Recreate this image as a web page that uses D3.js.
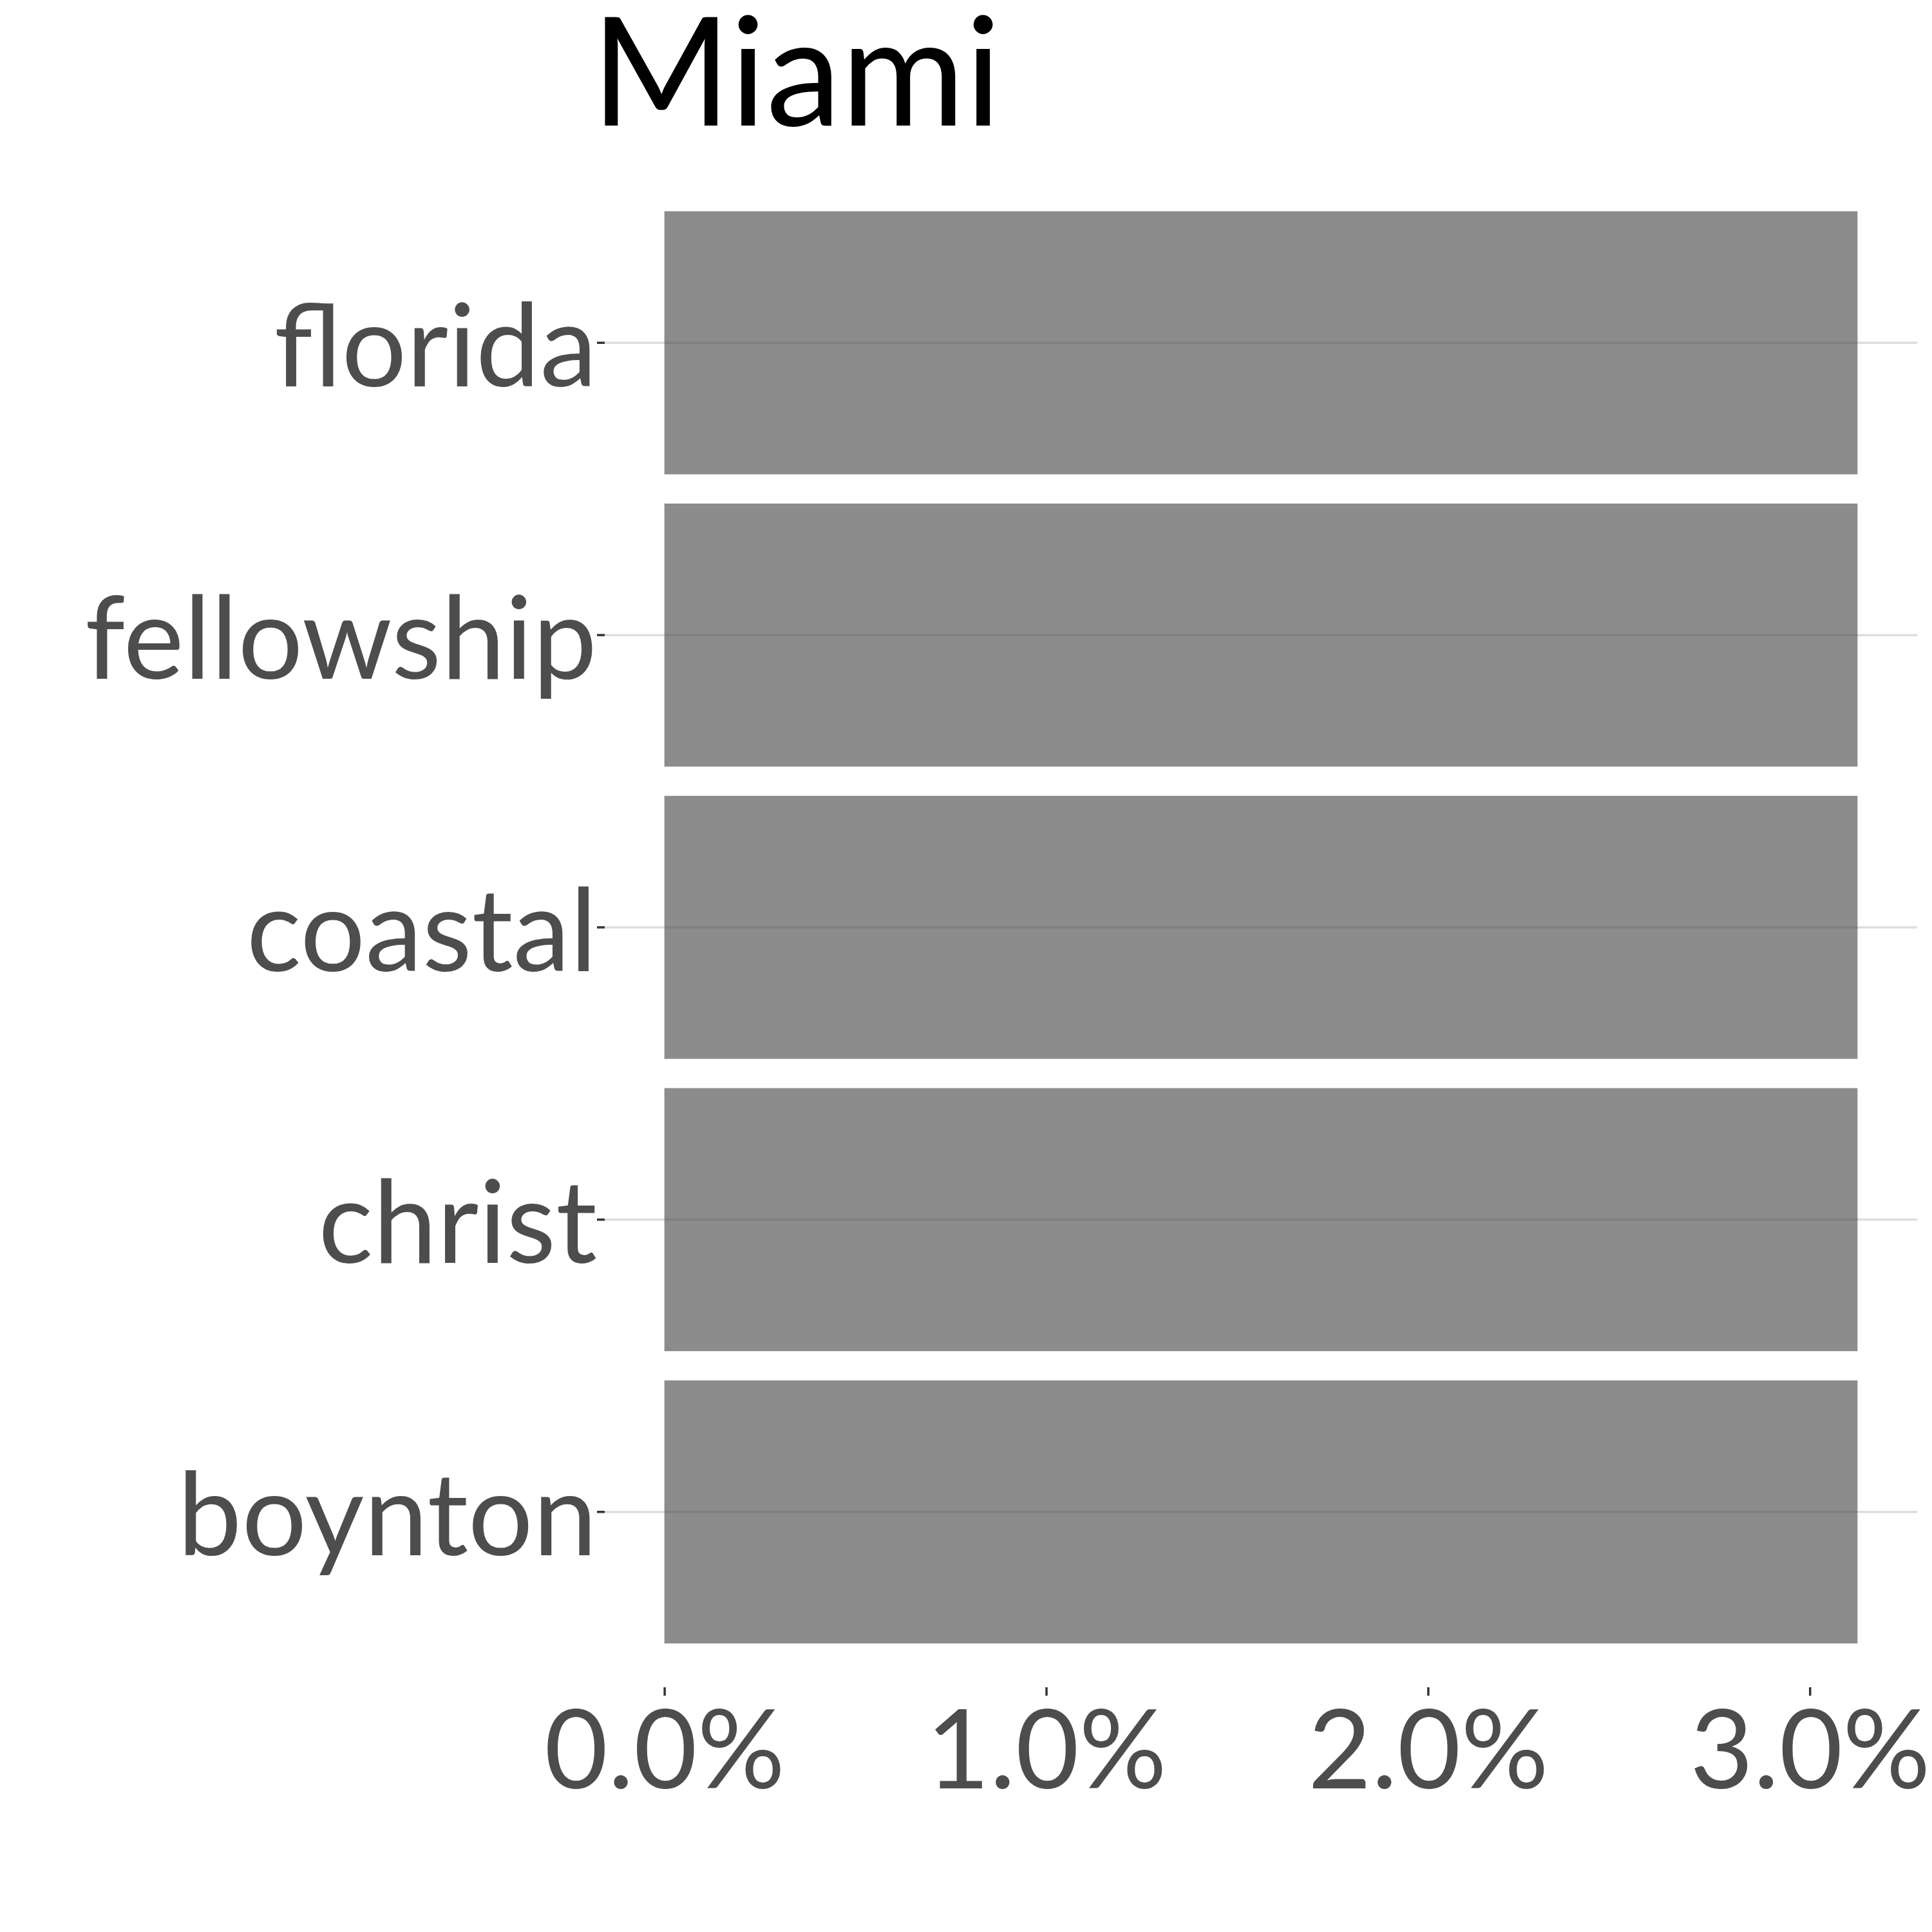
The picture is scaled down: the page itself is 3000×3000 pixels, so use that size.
<!DOCTYPE html>
<html>
<head>
<meta charset="utf-8">
<script src="https://cdn.jsdelivr.net/npm/d3@7"></script>
<style>
  html, body { margin: 0; padding: 0; background: #fff; }
  svg { display: block; }
</style>
</head>
<body>
<script>
// ---- data ----
const title = "Miami";
const categories = ["florida", "fellowship", "coastal", "christ", "boynton"];
const values = [0.03125, 0.03125, 0.03125, 0.03125, 0.03125];
const xTicks = [0, 0.01, 0.02, 0.03];

// ---- layout ----
const W = 3000, H = 3000;
const panel = { left: 939, right: 2977, top: 260, bottom: 2620 };
const font = "Lato, 'Open Sans', sans-serif";
const textCol = "#4d4d4d";

const svg = d3.select("body").append("svg")
  .attr("width", W).attr("height", H)
  .attr("viewBox", `0 0 ${W} ${H}`);

svg.append("rect").attr("width", W).attr("height", H).attr("fill", "#fff");

const maxV = d3.max(values);
const pad = maxV * 0.05;
const x = d3.scaleLinear().domain([0 - pad, maxV + pad]).range([panel.left, panel.right]);
const y = d3.scaleBand().domain(categories).range([panel.top, panel.bottom])
  .paddingInner(0.1).paddingOuter(0.15);

// grid lines (horizontal, at category centers)
svg.append("g").selectAll("line").data(categories).join("line")
  .attr("x1", panel.left).attr("x2", panel.right)
  .attr("y1", d => y(d) + y.bandwidth() / 2)
  .attr("y2", d => y(d) + y.bandwidth() / 2)
  .attr("stroke", "#dedede").attr("stroke-width", 3.5);

// bars
svg.append("g").selectAll("rect").data(categories).join("rect")
  .attr("x", x(0))
  .attr("y", d => y(d))
  .attr("width", (d, i) => x(values[i]) - x(0))
  .attr("height", y.bandwidth())
  .attr("fill", "#4b4b4b").attr("fill-opacity", 0.64);

// y axis
const yAxis = d3.axisLeft(y).tickSize(12).tickPadding(0);
const gy = svg.append("g").attr("transform", `translate(${panel.left},0)`).call(yAxis);
gy.select(".domain").remove();
gy.selectAll(".tick line").attr("stroke", "#333").attr("stroke-width", 3.5);
gy.selectAll(".tick text")
  .attr("fill", textCol)
  .attr("font-family", font)
  .attr("font-size", 178)
  .attr("dy", "0.38em");

// x axis
const xAxis = d3.axisBottom(x).tickValues(xTicks).tickFormat(d3.format(".1%")).tickSize(13).tickPadding(22);
const gx = svg.append("g").attr("transform", `translate(0,${panel.bottom})`).call(xAxis);
gx.select(".domain").remove();
gx.selectAll(".tick line").attr("stroke", "#333").attr("stroke-width", 3.5);
gx.selectAll(".tick text")
  .attr("fill", textCol)
  .attr("font-family", font)
  .attr("font-size", 170)
  .attr("dy", "0.72em");

// title
svg.append("text")
  .attr("x", 918).attr("y", 195)
  .attr("font-family", font)
  .attr("font-size", 234)
  .attr("fill", "#000")
  .text(title);
</script>
</body>
</html>
